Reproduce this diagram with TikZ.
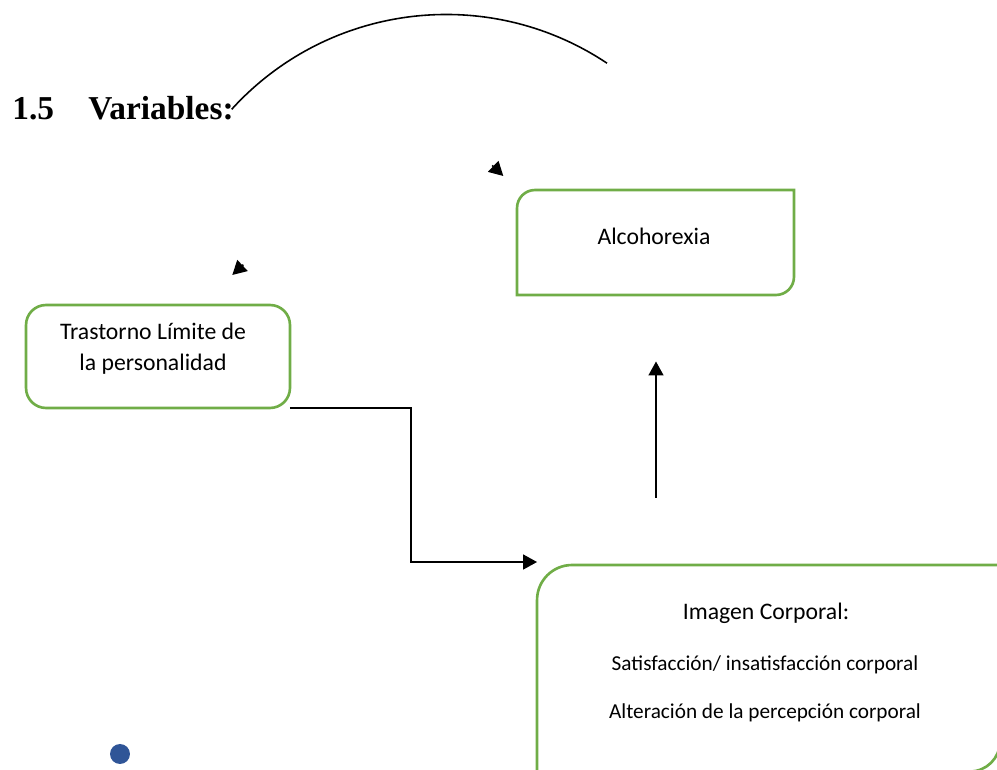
\documentclass[tikz,border=0pt]{standalone}
\usepackage{fontspec}
\setmainfont{Carlito}
\newfontfamily\headfont{Liberation Serif}
\usepackage{xcolor}
\usepackage{tikz}
\usetikzlibrary{arrows.meta, positioning, calc}
\definecolor{boxgreen}{RGB}{112,173,71}
\definecolor{dotblue}{RGB}{47,85,151}

\begin{document}
\begin{tikzpicture}[
    x=0.02cm, y=0.02cm,
    frame/.style={draw=none, rectangle, inner sep=0pt, outer sep=0pt},
    outline/.style={draw=boxgreen, line width=1.5pt},
    txt/.style={inner sep=0pt, anchor=base, font=\fontsize{13.5}{17}\selectfont},
    smalltxt/.style={txt, font=\fontsize{12.1}{15}\selectfont},
    head/.style={inner sep=0pt, anchor=base west, font=\headfont\bfseries\fontsize{19}{21}\selectfont},
    link/.style={draw, line width=0.9pt, -{Triangle[length=0.28cm, width=0.3cm]}},
  ]
  \useasboundingbox (0,0) rectangle (997,770);

  % Heading
  \node[head] (secnum) at (12,650) {1.5};
  \node[head] (sectitle) at (88,650) {Variables:};

  % Boxes
  \node[frame, outline, rounded corners=0.4cm, minimum width=5.28cm, minimum height=2.06cm] (tlp) at (158,413.5) {};
  \node[txt] (tlp1) at (153,430) {Trastorno Límite de};
  \node[txt] (tlp2) at (153,399) {la personalidad};

  \node[frame, minimum width=5.54cm, minimum height=2.1cm] (alc) at (655.5,527.5) {};
  \draw[outline] (alc.south west) -- ([yshift=-0.36cm]alc.north west)
    arc[start angle=180, end angle=90, radius=0.36cm] -- (alc.north east)
    -- ([yshift=0.36cm]alc.south east)
    arc[start angle=0, end angle=-90, radius=0.36cm] -- cycle;
  \node[txt] (alctext) at (654,525) {Alcohorexia};

  \node[frame, minimum width=9.26cm, minimum height=4.13cm] (img) at (768.5,101.75) {};
  \draw[outline] (img.south west) -- ([yshift=-0.7cm]img.north west)
    arc[start angle=180, end angle=90, radius=0.7cm] -- (img.north east)
    -- ([yshift=0.6cm]img.south east)
    arc[start angle=0, end angle=-90, radius=0.6cm] -- cycle;
  \node[txt] (img1) at (766,150) {Imagen Corporal:};
  \node[smalltxt] (img2) at (765,99.3) {Satisfacción/ insatisfacción corporal};
  \node[smalltxt] (img3) at (765,51.7) {Alteración de la percepción corporal};

  % Connectors
  \draw[link] (tlp.south east) -- ++(121,0) |- ([yshift=0.06cm]img.north west);
  \coordinate (upfrom) at (656,272);
  \coordinate (upto) at (656,408.5);
  \draw[link] (upfrom) -- (upto);

  \coordinate (arcstart) at (231.7,660.7);
  \draw[line width=0.9pt] (arcstart) arc[start angle=137.7, end angle=56.3, radius=5.8cm];

  \coordinate (h1from) at (492.2,604.6);
  \coordinate (h1tip) at (503.3,594);
  \draw[link] (h1from) -- (h1tip);
  \coordinate (h2from) at (243.3,505.3);
  \coordinate (h2tip) at (232.3,495);
  \draw[link] (h2from) -- (h2tip);

  \node[circle, fill=dotblue, minimum size=0.4cm, inner sep=0pt] (dot) at (120,16) {};
\end{tikzpicture}
\end{document}
